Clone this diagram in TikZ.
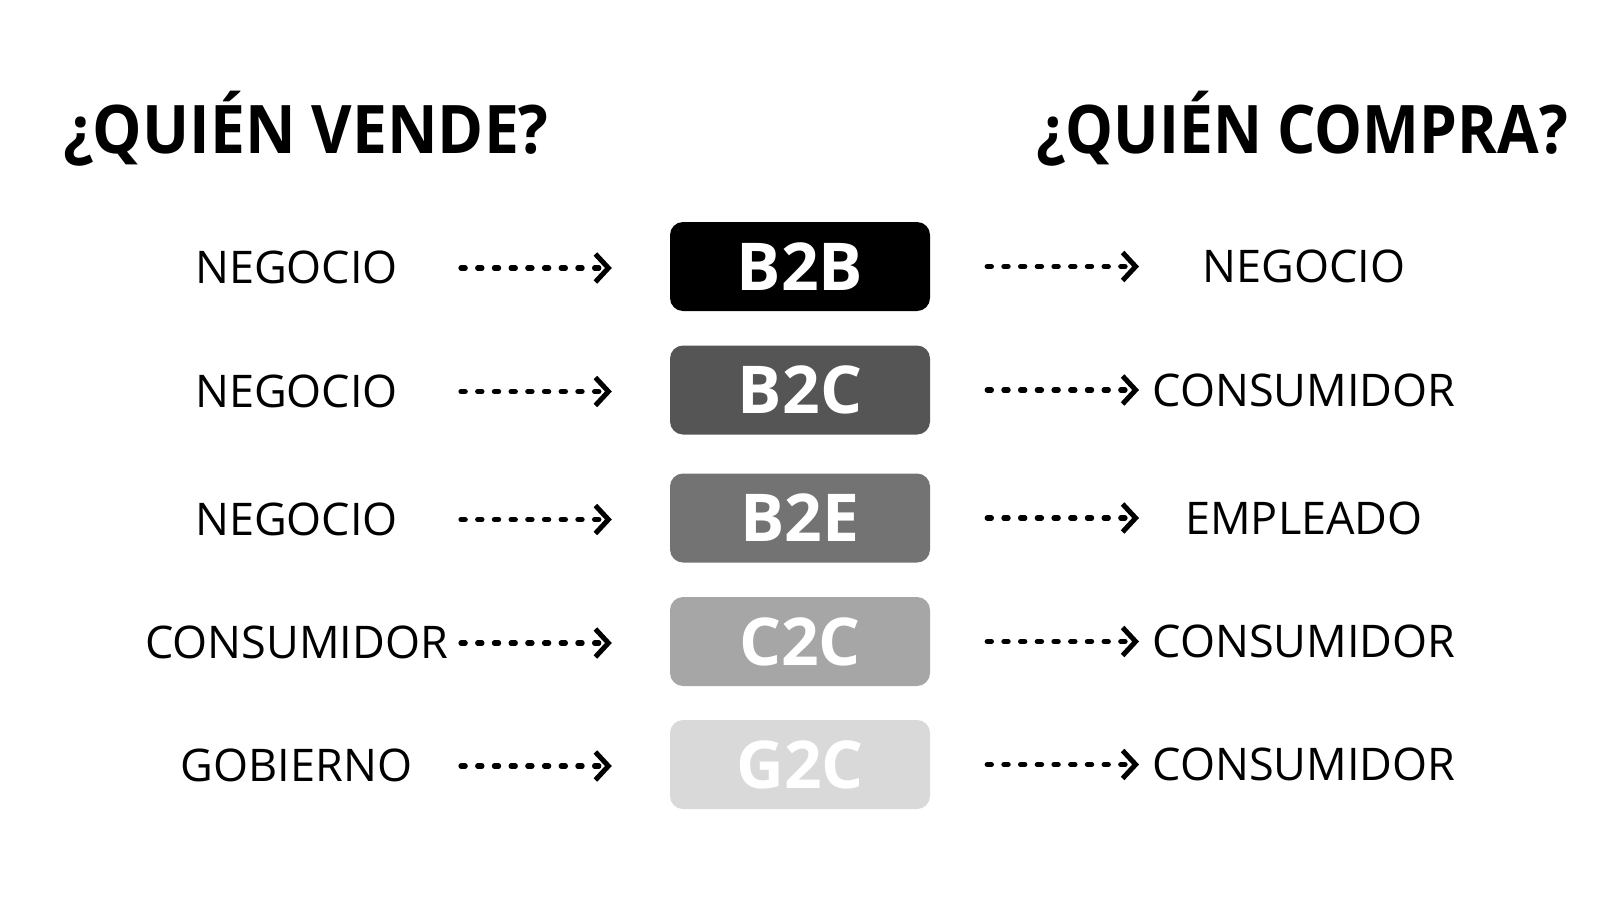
\documentclass[tikz,border=0pt]{standalone}
\usepackage{fontspec}
\setmainfont{Open Sans}
\usetikzlibrary{arrows.meta}
\definecolor{cB2B}{HTML}{000000}
\definecolor{cB2C}{HTML}{555555}
\definecolor{cB2E}{HTML}{737373}
\definecolor{cC2C}{HTML}{A6A6A6}
\definecolor{cG2C}{HTML}{D9D9D9}
\tikzset{
  titletext/.style={font=\fontsize{67}{70}\selectfont\bfseries\addfontfeature{FakeStretch=#1}, inner sep=0pt},
  labeltext/.style={font=\fontsize{45}{50}\selectfont, inner sep=0pt, anchor=center},
  codebox/.style={rounded corners=13pt, minimum width=260pt, minimum height=89pt, inner sep=0pt,
    text=white, font=\fontsize{66}{70}\selectfont\bfseries},
  dotarrow/.style={line width=5.2pt, line cap=round, dash pattern=on 4.2pt off 12.5pt,
    -{Straight Barb[length=13pt,width=28pt,line width=5pt]}},
}
\begin{document}
\begin{tikzpicture}[x=1pt,y=-1pt]
\useasboundingbox (0,0) rectangle (1600,900);
\node[titletext=0.93, anchor=base west] (t1) at (63,153) {¿QUIÉN VENDE?};
\node[titletext=0.90, anchor=base east] (t2) at (1568,153) {¿QUIÉN COMPRA?};

\foreach \i/\y/\code/\col/\lft/\rgt in {
  1/266.5/B2B/cB2B/NEGOCIO/NEGOCIO,
  2/390/B2C/cB2C/NEGOCIO/CONSUMIDOR,
  3/518/B2E/cB2E/NEGOCIO/EMPLEADO,
  4/641.5/C2C/cC2C/CONSUMIDOR/CONSUMIDOR,
  5/764.5/G2C/cG2C/GOBIERNO/CONSUMIDOR}{
  \node[codebox, fill=\col] (b\i) at (800,\y) {\code};
  \node[labeltext] (l\i) at (296.5,\y+1) {\lft};
  \node[labeltext] (r\i) at (1304,\y) {\rgt};
  \coordinate (ls\i) at (461,\y+1.5);
  \coordinate (re\i) at (1139,\y);
  \draw[dotarrow, shorten >=58pt] (ls\i) -- (b\i.west |- ls\i);
  \draw[dotarrow, shorten <=57pt] (b\i.east |- re\i) -- (re\i);
}
\end{tikzpicture}
\end{document}
